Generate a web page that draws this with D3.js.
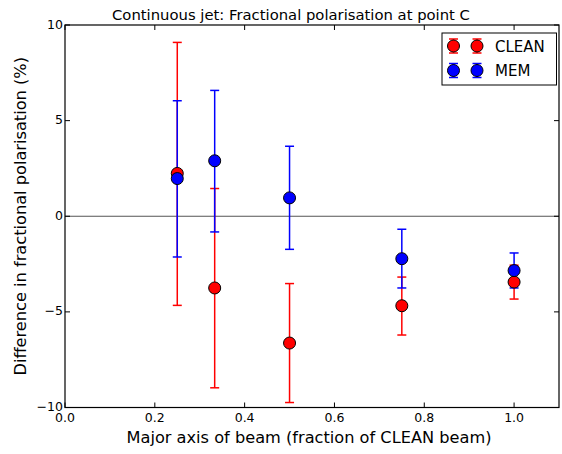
<!DOCTYPE html>
<html><head><meta charset="utf-8">
<script src="https://cdn.jsdelivr.net/npm/d3@7"></script>
<style>body{margin:0;background:#fff;} svg{display:block;} text{font-family:"DejaVu Sans",sans-serif;}</style>
</head><body><svg id="c" width="562" height="454"></svg>
<script>
const xValues = [0.25, 0.3333, 0.5, 0.75, 1.0];
const cleanY = [2.24, -3.75, -6.63, -4.68, -3.44];
const cleanLo = [-4.66, -8.97, -9.74, -6.21, -4.33];
const cleanHi = [9.09, 1.45, -3.52, -3.18, -2.56];
const memY = [1.97, 2.90, 0.96, -2.22, -2.84];
const memLo = [-2.13, -0.82, -1.73, -3.75, -3.75];
const memHi = [6.04, 6.58, 3.66, -0.68, -1.92];
const xTicks = [0.0, 0.2, 0.4, 0.6, 0.8, 1.0];
const yTicks = [-10, -5, 0, 5, 10];
const seriesNames = ["CLEAN", "MEM"];
const seriesColors = ["#ff0000", "#0000ff"];

const svg = d3.select("#c");
const L = 65, T = 25, R = 559, B = 407.5;
const x = d3.scaleLinear().domain([0, 1.1]).range([L, R]);
const y = d3.scaleLinear().domain([-10, 10]).range([B, T]);

// zero line
svg.append("line").attr("x1", L).attr("x2", R).attr("y1", y(0)).attr("y2", y(0))
  .attr("stroke", "#555").attr("stroke-width", 1.2);

const series = [
  {name: seriesNames[0], color: seriesColors[0], v: cleanY, lo: cleanLo, hi: cleanHi},
  {name: seriesNames[1], color: seriesColors[1], v: memY, lo: memLo, hi: memHi}
];
const cap = 4.5;
series.forEach(s => {
  const g = svg.append("g");
  xValues.forEach((xv, i) => {
    g.append("line").attr("x1", x(xv)).attr("x2", x(xv)).attr("y1", y(s.lo[i])).attr("y2", y(s.hi[i]))
      .attr("stroke", s.color).attr("stroke-width", 1.5);
    [s.lo[i], s.hi[i]].forEach(e => {
      g.append("line").attr("x1", x(xv) - cap).attr("x2", x(xv) + cap).attr("y1", y(e)).attr("y2", y(e))
        .attr("stroke", s.color).attr("stroke-width", 1.5);
    });
  });
});
series.forEach(s => {
  svg.append("g").selectAll("circle").data(xValues).join("circle")
    .attr("cx", d => x(d)).attr("cy", (d, i) => y(s.v[i])).attr("r", 6)
    .attr("fill", s.color).attr("stroke", "#000").attr("stroke-width", 1);
});

// frame
svg.append("rect").attr("x", L).attr("y", T).attr("width", R - L).attr("height", B - T)
  .attr("fill", "none").attr("stroke", "#000").attr("stroke-width", 1.2);

// ticks (inside, all four sides)
const tl = 5;
xTicks.forEach(t => {
  svg.append("line").attr("x1", x(t)).attr("x2", x(t)).attr("y1", B).attr("y2", B - tl).attr("stroke", "#000");
  svg.append("line").attr("x1", x(t)).attr("x2", x(t)).attr("y1", T).attr("y2", T + tl).attr("stroke", "#000");
  svg.append("text").attr("x", x(t)).attr("y", B + 14.5).attr("text-anchor", "middle")
    .attr("font-size", 12.5).text(d3.format(".1f")(t));
});
yTicks.forEach(t => {
  svg.append("line").attr("x1", L).attr("x2", L + tl).attr("y1", y(t)).attr("y2", y(t)).attr("stroke", "#000");
  svg.append("line").attr("x1", R).attr("x2", R - tl).attr("y1", y(t)).attr("y2", y(t)).attr("stroke", "#000");
  svg.append("text").attr("x", L - 2).attr("y", y(t) + 3.5).attr("text-anchor", "end")
    .attr("font-size", 12.5).text(t < 0 ? "\u2212" + Math.abs(t) : String(t));
});

// title and labels
svg.append("text").attr("x", 291).attr("y", 20).attr("text-anchor", "middle")
  .attr("font-size", 14.8).text("Continuous jet: Fractional polarisation at point C");
svg.append("text").attr("x", (L + R) / 2 - 3).attr("y", 443).attr("text-anchor", "middle")
  .attr("font-size", 16.2).text("Major axis of beam (fraction of CLEAN beam)");
svg.append("text").attr("transform", `translate(26,${(T + B) / 2}) rotate(-90)`).attr("text-anchor", "middle")
  .attr("font-size", 16.2).text("Difference in fractional polarisation (%)");

// legend
const lg = svg.append("g");
lg.append("rect").attr("x", 442).attr("y", 33).attr("width", 114.5).attr("height", 52)
  .attr("fill", "#fff").attr("stroke", "#000").attr("stroke-width", 1);
series.forEach((s, k) => {
  const yy = 46 + k * 24.5;
  [453.5, 477].forEach(xx => {
    lg.append("line").attr("x1", xx).attr("x2", xx).attr("y1", yy - 7).attr("y2", yy + 7).attr("stroke", s.color).attr("stroke-width", 1.5);
    [yy - 7, yy + 7].forEach(e => lg.append("line").attr("x1", xx - 4.5).attr("x2", xx + 4.5).attr("y1", e).attr("y2", e).attr("stroke", s.color).attr("stroke-width", 1.5));
    lg.append("circle").attr("cx", xx).attr("cy", yy).attr("r", 6).attr("fill", s.color).attr("stroke", "#000").attr("stroke-width", 1);
  });
  lg.append("text").attr("x", 495).attr("y", yy + 5.5).attr("font-size", 15).text(s.name);
});
</script></body></html>
